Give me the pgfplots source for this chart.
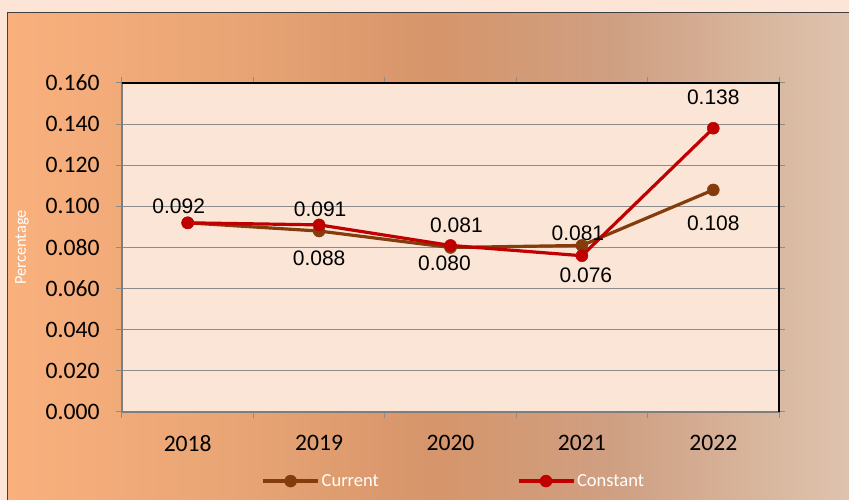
\documentclass[border=0pt]{standalone}
\usepackage{fontspec}
\setmainfont{Carlito}
\newfontfamily\arialfont{Liberation Sans}
\usepackage{pgfplots}
\pgfplotsset{compat=1.18}
\definecolor{pagebg}{HTML}{FCE4D6}
\definecolor{plotbg}{HTML}{FBE5D6}
\definecolor{curcol}{HTML}{843C0C}
\definecolor{concol}{HTML}{C00000}
\definecolor{gridgray}{HTML}{8C8C8C}
\pgfdeclarehorizontalshading{bgshade}{100bp}{%
  rgb(0bp)=(0.976,0.690,0.490);
  rgb(25bp)=(0.976,0.690,0.490);
  rgb(38.2bp)=(0.914,0.647,0.459);
  rgb(50.1bp)=(0.839,0.584,0.416);
  rgb(61.4bp)=(0.812,0.627,0.514);
  rgb(72.1bp)=(0.859,0.737,0.647);
  rgb(75bp)=(0.875,0.765,0.686);
  rgb(100bp)=(0.875,0.765,0.686)}
\begin{document}
\begin{tikzpicture}[x=1pt,y=1pt]
\useasboundingbox (0,0) rectangle (849,500);
\fill[pagebg] (0,0) rectangle (849,500);
\shade[shading=bgshade] (7,0) rectangle (849,487);
\draw[line width=1pt, black!75] (7,0) -- (7,487) -- (849,487);
\begin{axis}[
  at={(122pt,88pt)}, anchor=south west,
  scale only axis, width=657pt, height=329pt,
  clip=false,
  xmin=-0.5, xmax=4.5, ymin=0, ymax=0.16,
  xtick={-0.5,0.5,1.5,2.5,3.5,4.5}, xticklabels={},
  extra x ticks={0,1,2,3,4},
  extra x tick labels={2018,2019,2020,2021,2022},
  extra x tick style={tick style={draw=none}, xticklabel style={yshift=-14pt}},
  ytick={0,0.02,0.04,0.06,0.08,0.10,0.12,0.14,0.16},
  scaled y ticks=false,
  yticklabel style={/pgf/number format/fixed, /pgf/number format/fixed zerofill, /pgf/number format/precision=3, xshift=-13pt},
  /pgf/number format/assume math mode=true,
  tick label style={font=\fontsize{23.6}{27}\selectfont, text=black},
  ymajorgrids, grid style={gridgray, line width=1.2pt},
  axis background/.style={fill=plotbg},
  axis line style={gridgray!90!black, line width=1.3pt},
  tick align=outside, major tick length=6pt,
  tick style={gridgray, line width=1pt},
  ylabel={Percentage},
  ylabel style={at={(axis description cs:-0.1522,0.5)}, anchor=center, text=white, font=\fontsize{16.5}{18}\selectfont},
  legend columns=2,
  legend style={at={(axis description cs:0.505,-0.21)}, anchor=center, draw=none, fill=none,
    font=\fontsize{18.5}{20}\selectfont, nodes={text=white},
    /tikz/every even column/.append style={column sep=136pt}},
  legend image code/.code={\draw[#1, mark repeat=2, mark phase=2] plot coordinates {(0pt,0pt) (27.5pt,0pt) (55pt,0pt)};},
]
\addplot[curcol, line width=3.2pt, mark=*, mark size=6pt, mark options={solid, fill=curcol, draw=curcol, line width=0.5pt}]
  coordinates {(0,0.092) (1,0.088) (2,0.080) (3,0.081) (4,0.108)};
\addlegendentry{Current}
\addplot[concol, line width=3.2pt, mark=*, mark size=6pt, mark options={solid, fill=concol, draw=concol, line width=0.5pt}]
  coordinates {(0,0.092) (1,0.091) (2,0.081) (3,0.076) (4,0.138)};
\addlegendentry{Constant}
\tikzset{lab/.style={font=\arialfont\fontsize{21}{24}\selectfont, text=black, inner sep=0pt}}
\node[lab, xshift=-9pt, yshift=17pt] at (axis cs:0,0.092) {0.092};
\node[lab, xshift=1pt, yshift=16pt] at (axis cs:1,0.091) {0.091};
\node[lab, yshift=-27pt] at (axis cs:1,0.088) {0.088};
\node[lab, xshift=6pt, yshift=20pt] at (axis cs:2,0.081) {0.081};
\node[lab, xshift=-6pt, yshift=-16pt] at (axis cs:2,0.080) {0.080};
\node[lab, xshift=-4pt, yshift=12pt] at (axis cs:3,0.081) {0.081};
\node[lab, xshift=4pt, yshift=-20pt] at (axis cs:3,0.076) {0.076};
\node[lab, yshift=31pt] at (axis cs:4,0.138) {0.138};
\node[lab, yshift=-33pt] at (axis cs:4,0.108) {0.108};
\draw[black, line width=1.8pt] (rel axis cs:0,1) -- (rel axis cs:1,1) -- (rel axis cs:1,0);
\end{axis}
\end{tikzpicture}
\end{document}
